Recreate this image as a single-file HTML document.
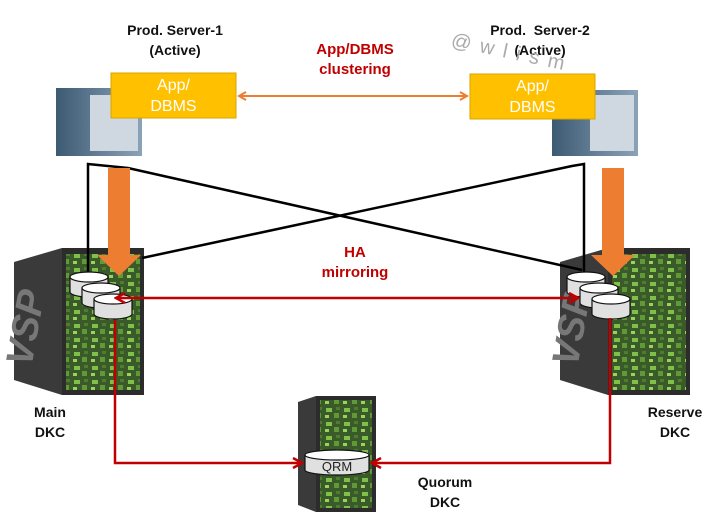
<!DOCTYPE html>
<html><head><style>
body{margin:0;width:708px;height:519px;background:#fff;overflow:hidden;position:relative;font-family:"Liberation Sans",sans-serif}
.t{position:absolute;font-weight:bold;text-align:center;font-size:14px;line-height:20px;color:#111}
.r{color:#c00000;font-size:15px}
</style></head><body>
<svg width="708" height="519" style="position:absolute;left:0;top:0">
<defs>
<linearGradient id="srv" x1="0" x2="1"><stop offset="0" stop-color="#3d5a73"/><stop offset="1" stop-color="#8aa3b8"/></linearGradient>
<pattern id="grn" width="18" height="14" patternUnits="userSpaceOnUse">
<rect width="18" height="14" fill="#3b5a2a"/><rect x="2" y="2" width="6" height="4" fill="#7fc04a"/><rect x="10" y="7" width="5" height="5" fill="#5f9a36"/><rect x="1" y="9" width="4" height="3" fill="#9ad35c"/><rect x="12" y="1" width="4" height="3" fill="#4e7d30"/></pattern>
<marker id="oa" markerWidth="10" markerHeight="10" refX="8" refY="5" orient="auto-start-reverse" markerUnits="userSpaceOnUse"><path d="M1,1 L8,5 L1,9" fill="none" stroke="#ed7d31" stroke-width="2"/></marker>
<marker id="ra" markerWidth="12" markerHeight="12" refX="10" refY="6" orient="auto-start-reverse" markerUnits="userSpaceOnUse"><path d="M1,1 L10,6 L1,11" fill="none" stroke="#c00000" stroke-width="2.5"/></marker>
<g id="d" stroke="#111" stroke-width="1.2"><path d="M0,5 L0,20 A19,5 0 0 0 38,20 L38,5" fill="#e0e0e0"/><ellipse cx="19" cy="5" rx="19" ry="5" fill="#fff"/></g>
</defs>
<!-- servers -->
<rect x="56" y="88" width="86" height="68" fill="url(#srv)"/>
<rect x="90" y="95" width="48" height="56" fill="#cfd8e0"/>
<rect x="552" y="90" width="86" height="66" fill="url(#srv)"/>
<rect x="590" y="95" width="44" height="56" fill="#cfd8e0"/>
<!-- yellow boxes -->
<rect x="111" y="73" width="125" height="45" fill="#ffc000" stroke="#d9a300"/>
<rect x="470" y="74" width="125" height="45" fill="#ffc000" stroke="#d9a300"/>
<line x1="239" y1="96" x2="467" y2="96" stroke="#ed7d31" stroke-width="2" marker-start="url(#oa)" marker-end="url(#oa)"/>
<!-- VSPs -->
<polygon points="14,262 62,248 62,395 14,380" fill="#3a3a3a"/>
<rect x="62" y="248" width="82" height="147" fill="#2c2c2c"/>
<rect x="66" y="254" width="74" height="136" fill="url(#grn)"/>
<text x="38" y="330" transform="rotate(-80 38 330)" font-size="38" font-weight="bold" font-style="italic" fill="#777" text-anchor="middle" font-family="Liberation Sans">VSP</text>
<polygon points="560,262 608,248 608,395 560,380" fill="#3a3a3a"/>
<rect x="608" y="248" width="82" height="147" fill="#2c2c2c"/>
<rect x="612" y="254" width="74" height="136" fill="url(#grn)"/>
<text x="584" y="330" transform="rotate(-80 584 330)" font-size="38" font-weight="bold" font-style="italic" fill="#777" text-anchor="middle" font-family="Liberation Sans">VSP</text>
<polygon points="298,402 316,396 316,512 298,505" fill="#3a3a3a"/>
<rect x="316" y="396" width="60" height="116" fill="#2c2c2c"/>
<rect x="320" y="400" width="52" height="108" fill="url(#grn)"/>
<!-- black lines -->
<polyline points="88,273 88,164 128,168 582,270" fill="none" stroke="#000" stroke-width="2.5"/>
<polyline points="584,272 584,164 572,166 142,258" fill="none" stroke="#000" stroke-width="2.5"/>
<!-- orange thick arrows -->
<polygon points="108,168 130,168 130,255 141,255 119,276 97,255 108,255" fill="#ed7d31"/>
<polygon points="602,168 624,168 624,255 635,255 613,276 591,255 602,255" fill="#ed7d31"/>
<!-- disks -->
<use href="#d" x="70" y="272"/><use href="#d" x="82" y="283"/><use href="#d" x="94" y="294"/>
<use href="#d" x="567" y="272"/><use href="#d" x="580" y="283"/><use href="#d" x="592" y="294"/>
<g stroke="#111" stroke-width="1.2">
<path d="M305,455 L305,470 A32,5 0 0 0 369,470 L369,455" fill="#e0e0e0"/><ellipse cx="337" cy="455" rx="32" ry="5" fill="#fff"/>
</g>
<text x="337" y="471" font-size="13" text-anchor="middle" fill="#222">QRM</text>
<!-- red -->
<line x1="116" y1="298" x2="578" y2="298" stroke="#c00000" stroke-width="2.5" marker-start="url(#ra)" marker-end="url(#ra)"/>
<polyline points="115,320 115,463 302,463" fill="none" stroke="#c00000" stroke-width="2.5" marker-end="url(#ra)"/>
<polyline points="610,318 610,463 372,463" fill="none" stroke="#c00000" stroke-width="2.5" marker-end="url(#ra)"/>
</svg>
<div class="t" style="left:100px;top:20px;width:150px">Prod. Server-1<br>(Active)</div>
<div class="t" style="left:460px;top:20px;width:160px">Prod.&nbsp; Server-2<br>(Active)</div>
<div class="t r" style="left:280px;top:40px;width:150px">App/DBMS<br>clustering</div>
<div class="t r" style="left:280px;top:243px;width:150px">HA<br>mirroring</div>
<div style="position:absolute;left:111px;top:75px;width:125px;text-align:center;color:#fff;font-size:16px;line-height:21px">App/<br>DBMS</div>
<div style="position:absolute;left:470px;top:76px;width:125px;text-align:center;color:#fff;font-size:16px;line-height:21px">App/<br>DBMS</div>
<div style="position:absolute;left:450px;top:42px;color:#aaa;font-size:20px;letter-spacing:9px;transform:rotate(12deg)">@wlism</div>
<div class="t" style="left:15px;top:402px;width:70px">Main<br>DKC</div>
<div class="t" style="left:640px;top:402px;width:70px">Reserve<br>DKC</div>
<div class="t" style="left:410px;top:472px;width:70px">Quorum<br>DKC</div>
</body></html>
